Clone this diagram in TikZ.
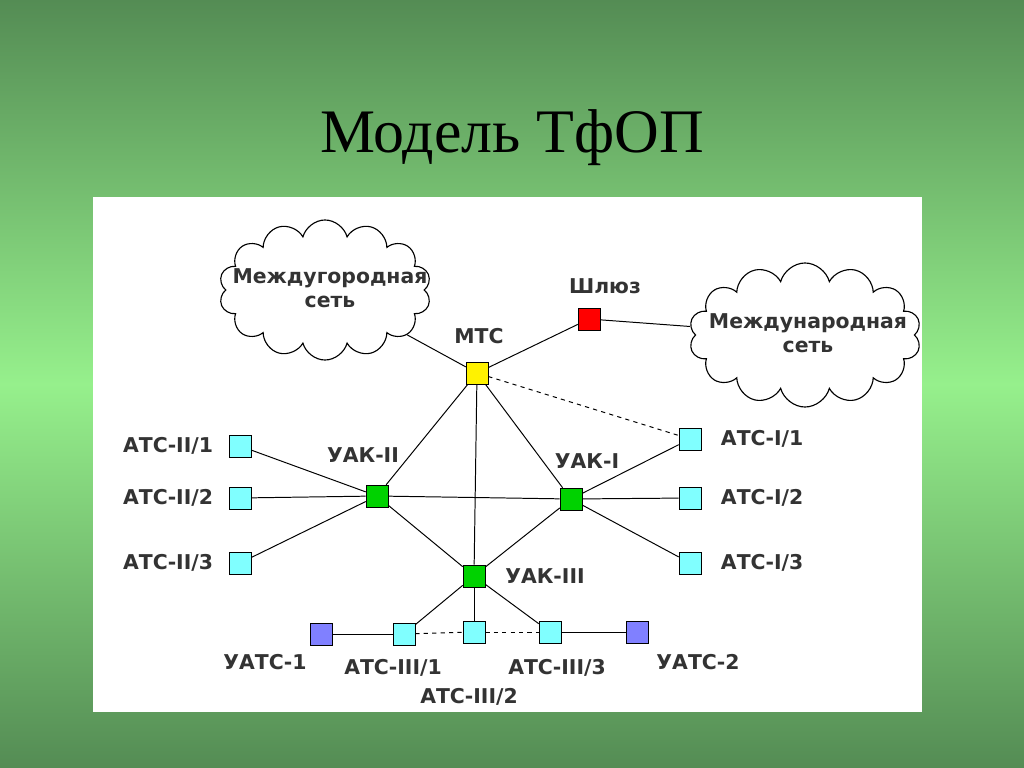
\documentclass[tikz,border=0pt]{standalone}
\usepackage{fontspec}
\setmainfont{DejaVu Sans}
\newfontfamily\titlefont{Liberation Serif}
\usetikzlibrary{shapes.symbols}
\definecolor{bgdark}{RGB}{84,140,84}
\definecolor{bglight}{RGB}{150,240,140}
\definecolor{atcblue}{RGB}{128,255,255}
\definecolor{uatcblue}{RGB}{128,128,255}
\definecolor{uakgreen}{RGB}{0,210,0}
\tikzset{
  sw/.style={draw=black, minimum size=0.55cm, inner sep=0pt},
  lbl/.style={font=\fontsize{14.5}{17}\selectfont\bfseries, text=black!80},
  link/.style={draw=black, line width=0.7pt},
  dlink/.style={link, dashed}
}
\begin{document}
\begin{tikzpicture}[x=0.025cm, y=-0.025cm]
\useasboundingbox (0,0) rectangle (1024,768);
\shade[top color=bgdark, bottom color=bglight] (0,0) rectangle (1024,384);
\shade[top color=bglight, bottom color=bgdark] (0,384) rectangle (1024,768);
\node[font=\titlefont\fontsize{44}{48}\selectfont] (title) at (512,138) {Модель ТфОП};
\fill[white] (93,197) rectangle (922,712);

% clouds
\node[cloud, cloud puffs=14, draw=black, line width=0.8pt, fill=white, minimum width=5.3cm, minimum height=3.5cm, aspect=1.6] (mgn) at (325,290) {};
\node[lbl, align=center] at (330,288) {Междугородная\\сеть};
\node[cloud, cloud puffs=14, draw=black, line width=0.8pt, fill=white, minimum width=5.8cm, minimum height=3.6cm, aspect=1.7] (mn) at (805,335) {};
\node[lbl, align=center] at (808,333) {Международная\\сеть};

% switches
\node[sw, fill=yellow] (mts) at (477,373) {};
\node[sw, fill=red] (gw) at (589,319) {};
\node[sw, fill=uakgreen] (uak2) at (377,496) {};
\node[sw, fill=uakgreen] (uak1) at (571,499) {};
\node[sw, fill=uakgreen] (uak3) at (474,576) {};
\node[sw, fill=atcblue] (a21) at (240,446) {};
\node[sw, fill=atcblue] (a22) at (240,498) {};
\node[sw, fill=atcblue] (a23) at (240,563) {};
\node[sw, fill=atcblue] (a11) at (690,439) {};
\node[sw, fill=atcblue] (a12) at (690,498) {};
\node[sw, fill=atcblue] (a13) at (690,563) {};
\node[sw, fill=atcblue] (a31) at (404,634) {};
\node[sw, fill=atcblue] (a32) at (474,632) {};
\node[sw, fill=atcblue] (a33) at (550,632) {};
\node[sw, fill=uatcblue] (u1) at (321,634) {};
\node[sw, fill=uatcblue] (u2) at (637,632) {};

% labels
\node[lbl] at (479,336) {МТС};
\node[lbl] at (363,455) {УАК-II};
\node[lbl] at (605,286) {Шлюз};
\node[lbl] at (587,461) {УАК-I};
\node[lbl] at (545,576) {УАК-III};
\node[lbl, anchor=east] at (218,446) {АТС-II/1};
\node[lbl, anchor=east] at (218,498) {АТС-II/2};
\node[lbl, anchor=east] at (218,563) {АТС-II/3};
\node[lbl, anchor=west] at (716,439) {АТС-I/1};
\node[lbl, anchor=west] at (716,498) {АТС-I/2};
\node[lbl, anchor=west] at (716,563) {АТС-I/3};
\node[lbl] at (265,662) {УАТС-1};
\node[lbl] at (393,668) {АТС-III/1};
\node[lbl] at (469,697) {АТС-III/2};
\node[lbl] at (557,668) {АТС-III/3};
\node[lbl] at (698,662) {УАТС-2};

% connections
\draw[link] (mts) -- (mgn);
\draw[link] (mts) -- (gw);
\draw[link] (gw) -- (mn);
\draw[dlink] (mts) -- (a11);
\draw[link] (mts) -- (uak2);
\draw[link] (mts) -- (uak1);
\draw[link] (mts) -- (uak3);
\draw[link] (uak2) -- (uak1);
\draw[link] (uak2) -- (uak3);
\draw[link] (uak1) -- (uak3);
\foreach \a in {a21,a22,a23} \draw[link] (uak2) -- (\a);
\foreach \a in {a11,a12,a13} \draw[link] (uak1) -- (\a);
\foreach \a in {a31,a32,a33} \draw[link] (uak3) -- (\a);
\draw[link] (u1) -- (a31);
\draw[dlink] (a31) -- (a32);
\draw[dlink] (a32) -- (a33);
\draw[link] (a33) -- (u2);
\end{tikzpicture}
\end{document}
